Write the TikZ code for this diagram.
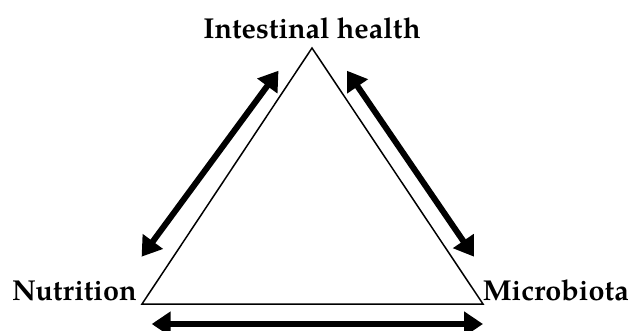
\documentclass[tikz,border=0pt]{standalone}
\usepackage{fontspec}
\setmainfont{texgyrepagella}[Extension=.otf,UprightFont=*-regular,BoldFont=*-bold]
\usetikzlibrary{arrows.meta}
\tikzset{
  lbl/.style={inner sep=0pt, font=\fontsize{28.8pt}{32pt}\selectfont\bfseries},
  tri/.style={draw=black, line width=1.5pt, line join=miter},
  dblarrow/.style={line width=6pt, {Triangle[length=19pt,width=24pt]}-{Triangle[length=19pt,width=24pt]}}
}
\begin{document}
\begin{tikzpicture}[x=1pt,y=-1pt]
\useasboundingbox (0,0) rectangle (631,331);
% triangle corners
\coordinate (apex) at (312,48);
\coordinate (bl) at (142,304);
\coordinate (br) at (483,304);
\draw[tri] (apex) -- (bl) -- (br) -- cycle;
% labels
\node[lbl, anchor=base] (health) at (312,39) {Intestinal health};
\node[lbl, anchor=base west] (nutr) at (12,300) {Nutrition};
\node[lbl, anchor=base east] (micro) at (629,300) {Microbiota};
% arrow end points
\coordinate (la1) at (141.6,256.7);
\coordinate (la2) at (278.5,70.7);
\coordinate (ra1) at (346.9,70.7);
\coordinate (ra2) at (474,256.7);
\coordinate (ba1) at (151.7,324);
\coordinate (ba2) at (483,324);
\draw[dblarrow] (la1) -- (la2);
\draw[dblarrow] (ra1) -- (ra2);
\draw[dblarrow] (ba1) -- (ba2);
\end{tikzpicture}
\end{document}
